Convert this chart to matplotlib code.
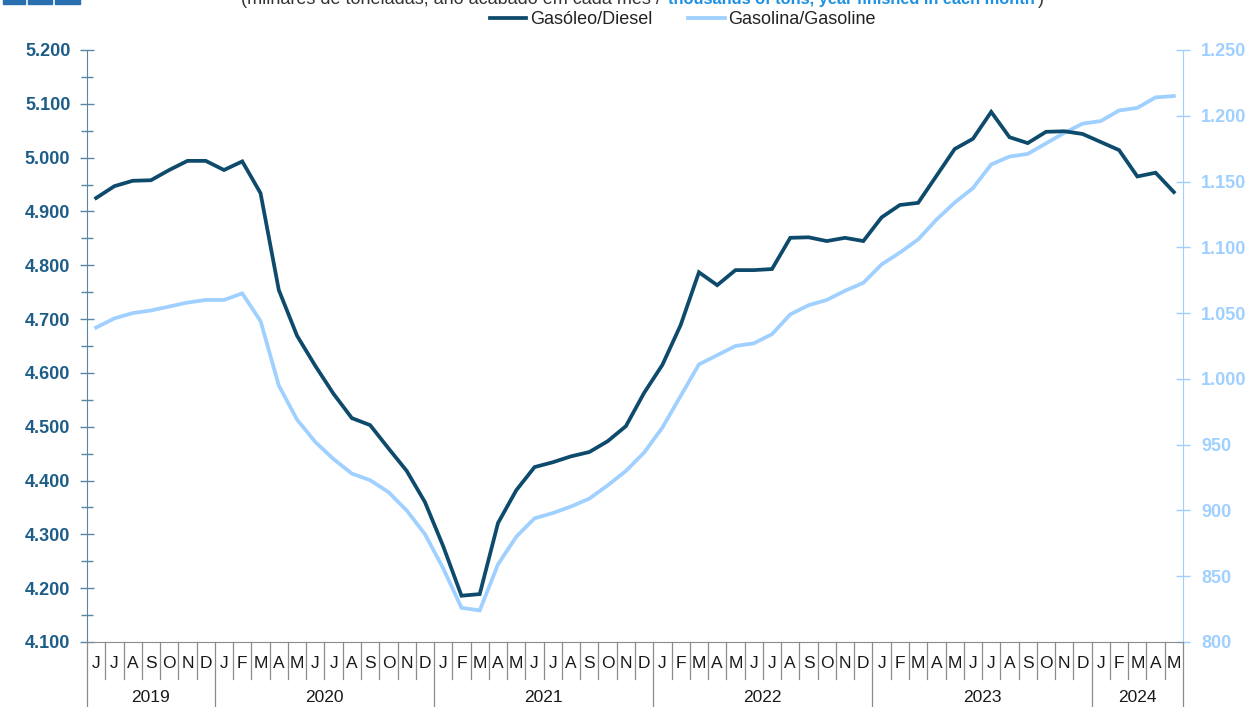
import matplotlib
matplotlib.use('Agg')
import matplotlib.pyplot as plt
from matplotlib.ticker import FuncFormatter, MultipleLocator
from matplotlib.patches import Rectangle

WIDTH = 1247
HEIGHT = 707
DPI = 100

plt.rcParams['font.family'] = ['Liberation Sans', 'DejaVu Sans']

# Jun 2019 .. May 2024, rolling 12-month totals (thousand tonnes)
months = ['J', 'J', 'A', 'S', 'O', 'N', 'D'] + \
         ['J', 'F', 'M', 'A', 'M', 'J', 'J', 'A', 'S', 'O', 'N', 'D'] * 4 + \
         ['J', 'F', 'M', 'A', 'M']
years = ['2019', '2020', '2021', '2022', '2023', '2024']
months_per_year = [7, 12, 12, 12, 12, 5]

diesel = [4925, 4947, 4957, 4958, 4977, 4994, 4994,
          4977, 4993, 4934, 4754, 4669, 4613, 4561, 4516, 4503, 4460, 4418, 4360,
          4278, 4186, 4189, 4321, 4382, 4425, 4434, 4445, 4453, 4473, 4501, 4563,
          4615, 4689, 4787, 4763, 4791, 4791, 4793, 4851, 4852, 4845, 4851, 4845,
          4889, 4912, 4916, 4966, 5016, 5035, 5085, 5038, 5027, 5048, 5049, 5044,
          5029, 5014, 4965, 4972, 4936]
gasoline = [1039, 1046, 1050, 1052, 1055, 1058, 1060,
            1060, 1065, 1044, 995, 969, 952, 939, 928, 923, 914, 900, 882,
            856, 826, 824, 859, 880, 894, 898, 903, 909, 919, 930, 944,
            963, 987, 1011, 1018, 1025, 1027, 1034, 1049, 1056, 1060, 1067, 1073,
            1087, 1096, 1106, 1121, 1134, 1145, 1163, 1169, 1171, 1179, 1187, 1194,
            1196, 1204, 1206, 1214, 1215]

DIESEL_COLOR = '#0d4a6b'
GASOLINE_COLOR = '#9fd0ff'
LEFT_LABEL_COLOR = '#1d5d87'
LEFT_AXIS_COLOR = '#5a86a3'
GRID_GRAY = '#8c8c8c'


def thousands(v, pos=None):
    return f'{int(v):,}'.replace(',', '.')


fig = plt.figure(figsize=(WIDTH / DPI, HEIGHT / DPI), dpi=DPI)
ax = fig.add_axes([87 / WIDTH, 65 / HEIGHT, 1096 / WIDTH, 592 / HEIGHT])
ax2 = ax.twinx()

x = [i + 0.5 for i in range(len(months))]
l1, = ax.plot(x, diesel, color=DIESEL_COLOR, lw=2.7, solid_joinstyle='miter',
              label='Gasóleo/Diesel', zorder=3)
l2, = ax2.plot(x, gasoline, color=GASOLINE_COLOR, lw=2.7, solid_joinstyle='miter',
               label='Gasolina/Gasoline', zorder=2)
ax.set_zorder(ax2.get_zorder() + 1)
ax.patch.set_visible(False)

ax.set_xlim(0, len(months))
ax.set_ylim(4100, 5200)
ax2.set_ylim(800, 1250)

# left axis
ax.yaxis.set_major_locator(MultipleLocator(100))
ax.yaxis.set_minor_locator(MultipleLocator(50))
ax.yaxis.set_major_formatter(FuncFormatter(thousands))
ax.tick_params(axis='y', which='both', direction='inout', color=LEFT_AXIS_COLOR,
               labelcolor=LEFT_LABEL_COLOR, labelsize=13, pad=7)
ax.tick_params(axis='y', which='major', length=10, width=1)
ax.tick_params(axis='y', which='minor', length=8, width=1)
for lab in ax.get_yticklabels():
    lab.set_fontweight('bold')

# right axis
ax2.yaxis.set_major_locator(MultipleLocator(50))
ax2.yaxis.set_major_formatter(FuncFormatter(thousands))
ax2.tick_params(axis='y', direction='inout', length=10, width=1, color=GASOLINE_COLOR,
                labelcolor=GASOLINE_COLOR, labelsize=13, pad=8)
for lab in ax2.get_yticklabels():
    lab.set_fontweight('bold')

for a in (ax, ax2):
    for side in ('top', 'right', 'left', 'bottom'):
        a.spines[side].set_visible(False)
ax.spines['left'].set_visible(True)
ax.spines['left'].set_color(LEFT_AXIS_COLOR)
ax2.spines['right'].set_visible(True)
ax2.spines['right'].set_color(GASOLINE_COLOR)
ax.spines['bottom'].set_visible(True)
ax.spines['bottom'].set_color(GRID_GRAY)

# category axis: months and years with separators
ax.set_xticks([])
trans = ax.get_xaxis_transform()
month_bottom = -37 / 592
year_bottom = -66 / 592
year_starts = [0]
for n in months_per_year:
    year_starts.append(year_starts[-1] + n)

for i, m in enumerate(months):
    ax.text(i + 0.5, -22 / 592, m, transform=trans, ha='center', va='center',
            fontsize=12.5, color='#1a1a1a')
for i in range(len(months) + 1):
    bottom = year_bottom if i in year_starts else month_bottom
    ax.plot([i, i], [0, bottom], transform=trans, color=GRID_GRAY, lw=0.9,
            clip_on=False)
for y, s, n in zip(years, year_starts, months_per_year):
    ax.text(s + n / 2, -55 / 592, y, transform=trans, ha='center', va='center',
            fontsize=12.5, color='#1a1a1a')

# legend
fig.legend(handles=[l1, l2], loc='center', bbox_to_anchor=(683 / WIDTH, 1 - 20 / HEIGHT),
           ncol=2, frameon=False, fontsize=13, handlelength=2.0, columnspacing=2.0,
           handletextpad=0.2, labelcolor='#222222')

# subtitle (partly above the top edge)
fig.text(666 / WIDTH, 1 - 4 / HEIGHT, '(milhares de toneladas, ano acabado em cada mês / ',
         ha='right', va='baseline', fontsize=13, color='#333333')
fig.text(668 / WIDTH, 1 - 4 / HEIGHT, 'thousands of tons, year finished in each month',
         ha='left', va='baseline', fontsize=11.8, color='#1e90e0', fontweight='bold')
fig.text(1038 / WIDTH, 1 - 4 / HEIGHT, ')', ha='left', va='baseline',
         fontsize=13, color='#333333')

# logo blocks in the top-left corner
for x0, w in [(3, 22), (28, 24), (55, 25)]:
    fig.patches.append(Rectangle((x0 / WIDTH, 1 - 4 / HEIGHT), w / WIDTH, 6 / HEIGHT,
                                 transform=fig.transFigure, color='#2a6fb0',
                                 clip_on=False))

fig.savefig('out.png', dpi=DPI)
